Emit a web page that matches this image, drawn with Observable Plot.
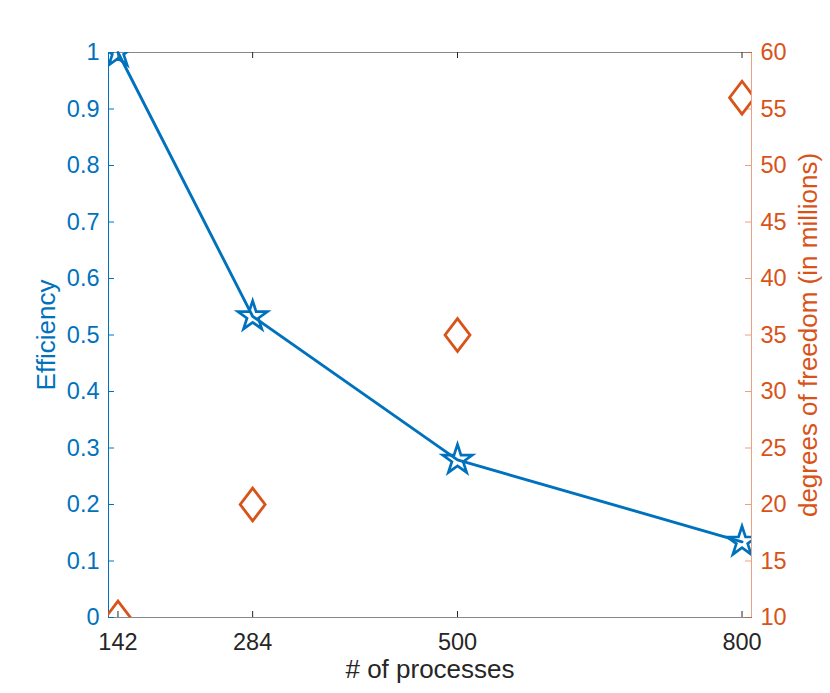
<!DOCTYPE html>
<html>
<head>
<meta charset="utf-8">
<script src="https://cdn.jsdelivr.net/npm/d3@7"></script>
<script src="https://cdn.jsdelivr.net/npm/@observablehq/plot@0.6"></script>
<style>
  html, body { margin: 0; padding: 0; background: #fff; }
</style>
</head>
<body>
<div id="chart"></div>
<script>
const processes = [142, 284, 500, 800];
const efficiency = [1, 0.533, 0.279, 0.134];
const dofMillions = [10, 20, 35, 56];
const xTicks = [142, 284, 500, 800];
const effTicks = [0, 0.1, 0.2, 0.3, 0.4, 0.5, 0.6, 0.7, 0.8, 0.9, 1];
const dofTicks = [10, 15, 20, 25, 30, 35, 40, 45, 50, 55, 60];
const dofDomain = [10, 60];

const blue = "#0072BD";
const orange = "#D95319";
const dark = "#262626";

const W = 830, H = 693;
const mL = 108, mR = 79, mT = 52, mB = 76;
const plotW = W - mL - mR, plotH = H - mT - mB;

const toEff = d => (d - dofDomain[0]) / (dofDomain[1] - dofDomain[0]);
const data = processes.map((p, i) => ({p, eff: efficiency[i], dof: dofMillions[i]}));

const diamond = {
  draw(ctx, size) {
    const s = Math.sqrt(size);
    const hh = 1.16 * s, hw = 0.88 * s;
    ctx.moveTo(0, -hh);
    ctx.lineTo(hw, 0);
    ctx.lineTo(0, hh);
    ctx.lineTo(-hw, 0);
    ctx.closePath();
  }
};

const chart = Plot.plot({
  width: W,
  height: H,
  marginLeft: mL,
  marginRight: mR,
  marginTop: mT,
  marginBottom: mB,
  style: {fontFamily: "'Liberation Sans', Arial, sans-serif", fontSize: "23.5px", background: "#fff"},
  x: {domain: [132, 810]},
  y: {domain: [0, 1]},
  marks: [
    Plot.frame({anchor: "bottom", stroke: "#888"}),
    Plot.frame({anchor: "top", stroke: "#888"}),
    Plot.frame({anchor: "left", stroke: blue}),
    Plot.frame({anchor: "right", stroke: orange, strokeOpacity: 0.55}),
    Plot.tickX(xTicks, {x: d => d, insetTop: plotH - 6, stroke: dark}),
    Plot.tickX(xTicks, {x: d => d, insetBottom: plotH - 6, stroke: dark}),
    Plot.tickY(effTicks, {y: d => d, insetRight: plotW - 6, stroke: blue}),
    Plot.tickY(dofTicks, {y: d => toEff(d), insetLeft: plotW - 6, stroke: orange, strokeOpacity: 0.55}),
    Plot.axisX({ticks: xTicks, tickSize: 0, tickPadding: 16, color: dark, label: null, tickFormat: d => String(d)}),
    Plot.axisY({anchor: "left", ticks: effTicks, tickSize: 0, tickPadding: 9, color: blue, label: null,
      tickFormat: d => String(+d.toFixed(1))}),
    Plot.axisY({anchor: "right", ticks: dofTicks.map(toEff), tickSize: 0, tickPadding: 9, color: orange, label: null,
      tickFormat: d => String(Math.round(dofDomain[0] + d * (dofDomain[1] - dofDomain[0])))}),
    Plot.line(data, {x: "p", y: "eff", stroke: blue, strokeWidth: 2.9}),
    Plot.dot(data, {x: "p", y: "eff", symbol: "star", r: 9.3, stroke: blue, strokeWidth: 2.7, fill: "none", clip: true}),
    Plot.dot(data, {x: "p", y: d => toEff(d.dof), symbol: diamond, r: 8, stroke: orange, strokeWidth: 2.8, fill: "none", clip: true}),
    Plot.text(["Efficiency"], {frameAnchor: "left", dx: -62, rotate: -90, textAnchor: "middle", lineAnchor: "middle", fill: blue, fontSize: 26}),
    Plot.text(["degrees of freedom (in millions)"], {frameAnchor: "right", dx: 57, rotate: -90, textAnchor: "middle", lineAnchor: "middle", fill: orange, fontSize: 26}),
    Plot.text(["# of processes"], {frameAnchor: "bottom", dy: 52.5, textAnchor: "middle", lineAnchor: "middle", fill: dark, fontSize: 26})
  ]
});

document.getElementById("chart").appendChild(chart);
</script>
</body>
</html>
